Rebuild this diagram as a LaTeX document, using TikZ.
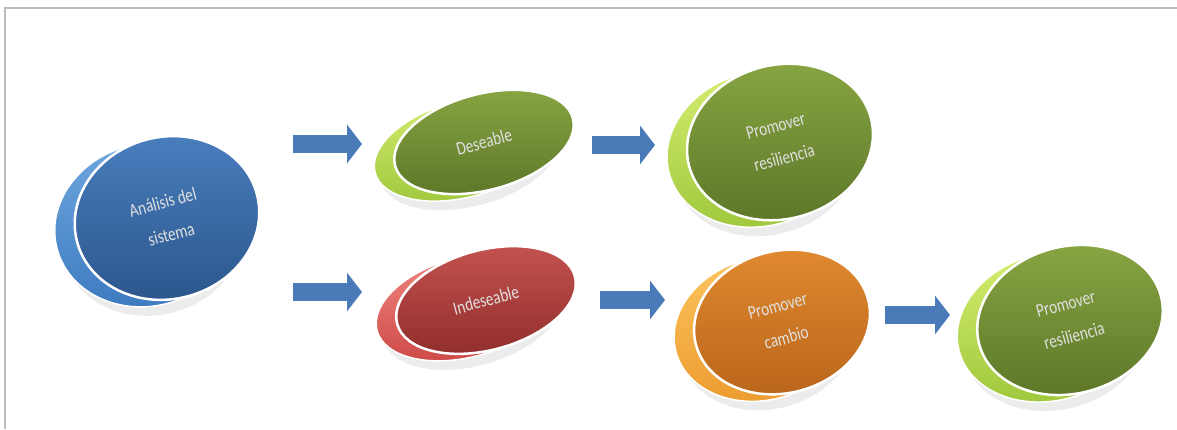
\documentclass[tikz,border=0pt]{standalone}
\usepackage{fontspec}
\setmainfont{Carlito}[FakeStretch=0.8]
\usepackage{xcolor}
\usetikzlibrary{shapes.geometric, arrows.meta, shadows}

\definecolor{azulA}{HTML}{72AAE0}
\definecolor{azulB}{HTML}{3B78BE}
\definecolor{azulC}{HTML}{4A7FBF}
\definecolor{azulD}{HTML}{2A558A}
\definecolor{verdeA}{HTML}{D8F074}
\definecolor{verdeB}{HTML}{9DC63A}
\definecolor{verdeC}{HTML}{8AA744}
\definecolor{verdeD}{HTML}{5B7527}
\definecolor{rojoA}{HTML}{F28C86}
\definecolor{rojoB}{HTML}{CC4744}
\definecolor{rojoC}{HTML}{C65450}
\definecolor{rojoD}{HTML}{8E2C2A}
\definecolor{naranjaA}{HTML}{FCC862}
\definecolor{naranjaB}{HTML}{EC9A2E}
\definecolor{naranjaC}{HTML}{E28B30}
\definecolor{naranjaD}{HTML}{B8641A}
\definecolor{flechaazul}{HTML}{4A7BB8}
\definecolor{marco}{HTML}{BBBBBB}

\begin{document}
\begin{tikzpicture}[x=1pt,y=1pt,
    losa/.style 2 args={ellipse, rotate=15, draw=white, line width=1.5pt, inner sep=0pt,
      top color=#1, bottom color=#2,
      drop shadow={opacity=0.15, shadow xshift=6pt, shadow yshift=-9pt}},
    cara/.style 2 args={ellipse, rotate=15, draw=white, line width=2.5pt, inner sep=0pt,
      top color=#1, bottom color=#2, align=center, text=white!88!black,
      font=\fontsize{19}{33}\selectfont},
    flecha/.style={draw=flechaazul, line width=18pt, -{Triangle[length=15pt,width=38pt]}}]
  \useasboundingbox (0,0) rectangle (1177,429);
  \draw[marco, line width=2pt] (5,0) -- (5,421) -- (1177,421);

  % origen
  \node[losa={azulA}{azulB}, minimum width=186pt, minimum height=162pt] (analisis0) at (147,204) {};
  \node[cara={azulC}{azulD}, minimum width=186pt, minimum height=162pt] (analisis) at (167,211) {Análisis del\\sistema};

  % rama de arriba
  \node[losa={verdeA}{verdeB}, minimum width=184pt, minimum height=96pt] (deseable0) at (464,280) {};
  \node[cara={verdeC}{verdeD}, minimum width=184pt, minimum height=96pt] (deseable) at (484,287) {Deseable};
  \node[losa={verdeA}{verdeB}, minimum width=188pt, minimum height=154pt] (resilA0) at (760,280) {};
  \node[cara={verdeC}{verdeD}, minimum width=188pt, minimum height=154pt] (resilA) at (780,287) {Promover\\resiliencia};

  % rama de abajo
  \node[losa={rojoA}{rojoB}, minimum width=184pt, minimum height=100pt] (indeseable0) at (466,122) {};
  \node[cara={rojoC}{rojoD}, minimum width=184pt, minimum height=100pt] (indeseable) at (486,129) {Indeseable};
  \node[losa={naranjaA}{naranjaB}, minimum width=178pt, minimum height=142pt] (cambio0) at (762,100) {};
  \node[cara={naranjaC}{naranjaD}, minimum width=178pt, minimum height=142pt] (cambio) at (782,107) {Promover\\cambio};
  \node[losa={verdeA}{verdeB}, minimum width=188pt, minimum height=147pt] (resilB0) at (1050,102) {};
  \node[cara={verdeC}{verdeD}, minimum width=188pt, minimum height=147pt] (resilB) at (1070,109) {Promover\\resiliencia};

  \draw[flecha] ([shift={(126,74)}]analisis.center) -- ([shift={(-122,-2)}]deseable.center);
  \draw[flecha] ([shift={(126,-74)}]analisis.center) -- ([shift={(-124,8)}]indeseable.center);
  \draw[flecha] ([shift={(108,-3)}]deseable.center) -- ([shift={(-125,-3)}]resilA.center);
  \draw[flecha] ([shift={(114,0)}]indeseable.center) -- ([shift={(-117,22)}]cambio.center);
  \draw[flecha] ([shift={(103,7)}]cambio.center) -- ([shift={(-120,5)}]resilB.center);
\end{tikzpicture}
\end{document}
